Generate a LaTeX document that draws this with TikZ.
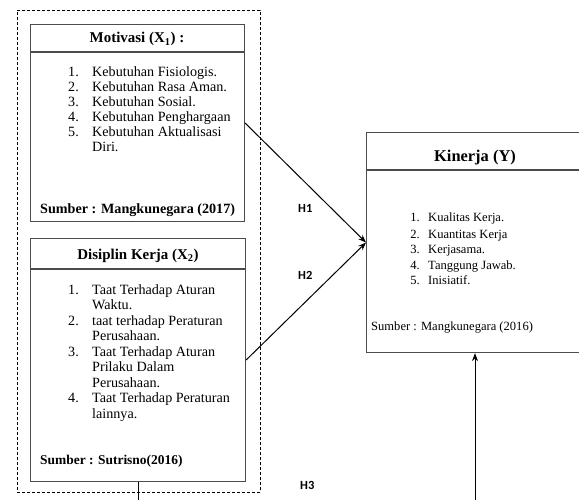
\documentclass[tikz,border=0pt]{standalone}
\usepackage{fontspec}
\setmainfont{Liberation Serif}
\newfontfamily\hfont{Carlito}
\usetikzlibrary{arrows.meta}
\tikzset{
  box/.style={draw=black!70, line width=1.1bp, rectangle, inner sep=0pt, anchor=north west},
  hline/.style={draw=black!70, line width=1.1bp},
  grp/.style={draw=black, line width=0.8bp, dash pattern=on 3bp off 2bp, rectangle, inner sep=0pt, anchor=north west},
  conn/.style={draw=black, line width=1bp, -{Stealth[length=8bp,width=6bp]}},
  plain/.style={draw=black, line width=1bp},
  ttl/.style={font=\fontsize{15}{17}\selectfont\bfseries, anchor=base, inner sep=0pt},
  num/.style={font=\fontsize{14.2}{15.5}\selectfont, anchor=base east, inner sep=0pt},
  itm/.style={font=\fontsize{14.2}{15.5}\selectfont, anchor=base west, inner sep=0pt},
  knum/.style={font=\fontsize{12.6}{15}\selectfont, anchor=base east, inner sep=0pt},
  kitm/.style={font=\fontsize{12.6}{15}\selectfont, anchor=base west, inner sep=0pt},
  src/.style={font=\fontsize{14.2}{15}\selectfont\bfseries, anchor=base west, inner sep=0pt},
  hlab/.style={font=\hfont\fontsize{12.5}{14}\selectfont\bfseries, anchor=base west, inner sep=0pt}
}
\begin{document}
\begin{tikzpicture}[x=1bp,y=-1bp]
\useasboundingbox (0,0) rectangle (579,500);
\clip (0,0) rectangle (579,500);
% outer dashed group
\node (grp) [grp, minimum width=243bp, minimum height=482bp] at (17,10) {};
% Motivasi box
\node (mot) [box, minimum width=214bp, minimum height=197bp] at (30,24) {};
\draw[hline] (30,52) -- (244,52);
\node (motT) [ttl] at (137,43) {Motivasi (X\textsubscript{1}) :};
\foreach \n/\t/\y [count=\i] in {1./Kebutuhan Fisiologis./77, 2./Kebutuhan Rasa Aman./92, 3./Kebutuhan Sosial./107, 4./Kebutuhan Penghargaan/122, 5./Kebutuhan Aktualisasi/137, /Diri./152}{
  \node (mn\i) [num] at (79,\y) {\n};
  \node (mt\i) [itm] at (92,\y) {\t};
}
\node (motS) [src] at (40,214) {Sumber : Mangkunegara (2017)};
% Disiplin box
\node (dis) [box, minimum width=215bp, minimum height=243bp] at (30,238) {};
\draw[hline] (30,269) -- (245,269);
\node (disT) [ttl] at (138,259) {Disiplin Kerja (X\textsubscript{2})};
\foreach \n/\t/\y [count=\i] in {1./Taat Terhadap Aturan/294, /Waktu./309.5, 2./taat terhadap Peraturan/325, /Perusahaan./340.5, 3./Taat Terhadap Aturan/356, /Prilaku Dalam/371.5, /Perusahaan./387, 4./Taat Terhadap Peraturan/402.5, /lainnya./418}{
  \node (dn\i) [num] at (79,\y) {\n};
  \node (dt\i) [itm] at (92,\y) {\t};
}
\node (disS) [src, font=\fontsize{13.5}{15}\selectfont\bfseries] at (40,464) {Sumber : Sutrisno(2016)};
% Kinerja box
\node (kin) [box, minimum width=219bp, minimum height=220bp] at (366,132) {};
\draw[hline] (366,170) -- (585,170);
\node (kinT) [ttl, font=\fontsize{16.5}{18}\selectfont\bfseries] at (475,162) {Kinerja (Y)};
\foreach \n/\t/\y [count=\i] in {1./Kualitas Kerja./222, 2./Kuantitas Kerja/238, 3./Kerjasama./253.5, 4./Tanggung Jawab./269, 5./Inisiatif./284.5}{
  \node (kn\i) [knum] at (420,\y) {\n};
  \node (kt\i) [kitm] at (428,\y) {\t};
}
\node (kinS) [kitm] at (371,330) {Sumber : Mangkunegara (2016)};
% connectors
\draw[conn] (mot.east) -- (kin.west);
\draw[conn] (dis.east) -- (kin.west);
\coordinate (vb) at (475,500);
\draw[conn] (vb) -- (vb |- kin.south);
\coordinate (db) at (138,500);
\draw[plain] (dis.south -| db) -- (db);
% labels
\node (h1) [hlab] at (298,213) {H1};
\node (h2) [hlab] at (298,279) {H2};
\node (h3) [hlab] at (300,489) {H3};
\end{tikzpicture}
\end{document}
